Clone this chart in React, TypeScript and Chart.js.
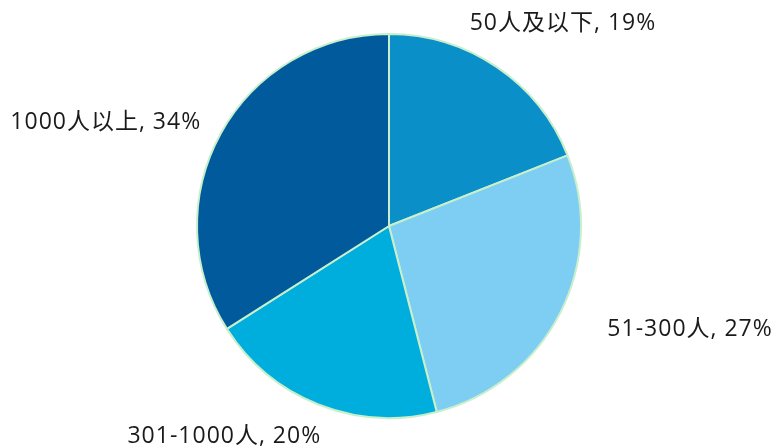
import React, { useEffect, useRef } from "react";
import { Chart, registerables } from "chart.js";

Chart.register(...registerables);

const categories = ["50人及以下", "51-300人", "301-1000人", "1000人以上"];
const percentages = [19, 27, 20, 34];
const sliceColors = ["#0A8FC8", "#7ECEF3", "#00AEDD", "#005A9B"];
const labelOffsets = [
  [66, -44],
  [130, 16],
  [-94, 32],
  [-115, -11],
];

const labelPlugin = {
  id: "outerLabels",
  afterDatasetsDraw(chart: any) {
    const { ctx } = chart;
    const meta = chart.getDatasetMeta(0);
    ctx.save();
    ctx.font = '23px "Open Sans", "Noto Sans CJK SC", sans-serif';
    (ctx as any).letterSpacing = "1px";
    ctx.fillStyle = "#1a1a1a";
    ctx.textAlign = "center";
    ctx.textBaseline = "middle";
    meta.data.forEach((arc: any, i: number) => {
      const p = arc.getProps(["x", "y", "startAngle", "endAngle", "outerRadius"], true);
      const mid = (p.startAngle + p.endAngle) / 2;
      const ex = p.x + Math.cos(mid) * p.outerRadius;
      const ey = p.y + Math.sin(mid) * p.outerRadius;
      const [dx, dy] = labelOffsets[i];
      const text = `${chart.data.labels[i]}, ${chart.data.datasets[0].data[i]}%`;
      ctx.fillText(text, ex + dx, ey + dy);
    });
    ctx.restore();
  },
};

export default function App() {
  const ref = useRef<HTMLCanvasElement>(null);
  useEffect(() => {
    if (!ref.current) return;
    const chart = new Chart(ref.current, {
      type: "pie",
      data: {
        labels: categories,
        datasets: [
          {
            data: percentages,
            backgroundColor: sliceColors,
            borderColor: "#C8EFCB",
            borderWidth: 2,
          },
        ],
      },
      options: {
        responsive: false,
        animation: false,
        layout: { padding: { top: 33, bottom: 29, left: 100, right: 96 } },
        plugins: {
          legend: { display: false },
          tooltip: { enabled: false },
        },
      },
      plugins: [labelPlugin],
    });
    return () => chart.destroy();
  }, []);
  return (
    <div style={{ position: "absolute", left: 0, top: 0, width: 774, height: 448, background: "#fff" }}>
      <canvas ref={ref} width={774} height={448} style={{ width: 774, height: 448 }} />
    </div>
  );
}
